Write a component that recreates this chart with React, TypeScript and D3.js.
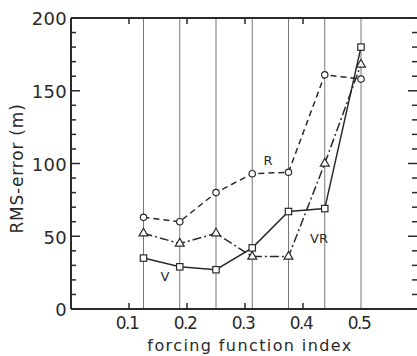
import React from 'react';
import * as d3 from 'd3';

// forcing function index values (one vertical line per value)
const indexValues = [0.125, 0.1875, 0.25, 0.3125, 0.375, 0.4375, 0.5];
// RMS-error (m) per curve
const seriesV = [35, 29, 27, 42, 67, 69, 180];
const seriesVR = [52, 45, 52, 36, 36, 100, 168];
const seriesR = [63, 60, 80, 93, 94, 161, 158];
const xTicks = [0.1, 0.2, 0.3, 0.4, 0.5];
const yTicks = [0, 50, 100, 150, 200];

const W = 417;
const H = 356;
const font = 'DejaVu Sans, sans-serif';
const ink = '#2a2a2a';

export default function App() {
  const x = d3.scaleLinear().domain([0, 0.6]).range([71, 419]);
  const y = d3.scaleLinear().domain([0, 200]).range([309, 18]);

  const line = d3
    .line<number>()
    .x((_, i) => x(indexValues[i]))
    .y((d) => y(d));

  const minor = d3.range(0, 201, 10);
  const left = x(0);
  const right = x(0.6);

  const square = (v: number, i: number) => (
    <rect key={i} x={x(indexValues[i]) - 3.2} y={y(v) - 3.2} width={6.4} height={6.4}
      fill="#fff" stroke={ink} strokeWidth={1.2} />
  );
  const circle = (v: number, i: number) => (
    <circle key={i} cx={x(indexValues[i])} cy={y(v)} r={3.2}
      fill="#fff" stroke={ink} strokeWidth={1.2} />
  );
  const tri = d3.symbol().type(d3.symbolTriangle).size(34);
  const triangle = (v: number, i: number) => (
    <path key={i} d={tri() as string} transform={`translate(${x(indexValues[i])},${y(v)})`}
      fill="#fff" stroke={ink} strokeWidth={1.2} />
  );

  return (
    <svg width={W} height={H} style={{ position: 'absolute', left: 0, top: 0, background: '#fff' }}>
      {/* vertical lines at each index value */}
      {indexValues.map((v, i) => (
        <line key={i} x1={x(v)} x2={x(v)} y1={y(200)} y2={y(0)} stroke="#777" strokeWidth={1} />
      ))}

      {/* frame */}
      <line x1={left} x2={left} y1={y(200)} y2={y(0)} stroke={ink} strokeWidth={2} />
      <line x1={left} x2={right} y1={y(0)} y2={y(0)} stroke={ink} strokeWidth={2} />
      <line x1={left} x2={right} y1={y(200)} y2={y(200)} stroke={ink} strokeWidth={2} />
      <line x1={right} x2={right} y1={y(200)} y2={y(0)} stroke={ink} strokeWidth={2} />

      {/* y ticks, left and right, inward */}
      {minor.map((t) => {
        const len = t % 50 === 0 ? 9 : 5;
        return (
          <g key={t}>
            <line x1={left} x2={left + len} y1={y(t)} y2={y(t)} stroke={ink} strokeWidth={1.5} />
            <line x1={right} x2={right - len - 2} y1={y(t)} y2={y(t)} stroke={ink} strokeWidth={1.5} />
          </g>
        );
      })}
      {yTicks.map((t) => (
        <text key={t} x={left - 4} y={y(t) + 1} dy="0.36em" textAnchor="end"
          fontFamily={font} fontSize={18} fill={ink} letterSpacing={0.3}>{t}</text>
      ))}

      {/* x ticks, bottom and top, inward */}
      {xTicks.map((t) => (
        <g key={t}>
          {t < 0.5 && <line x1={x(t)} x2={x(t)} y1={y(0)} y2={y(0) - 6} stroke={ink} strokeWidth={1.5} />}
          {t < 0.5 && <line x1={x(t)} x2={x(t)} y1={y(200)} y2={y(200) + 6} stroke={ink} strokeWidth={1.5} />}
          <text x={x(t) - 2} y={329} textAnchor="middle" fontFamily={font} fontSize={17}
            fill={ink} letterSpacing={-1.5}>{t.toFixed(1)}</text>
        </g>
      ))}

      {/* curves */}
      <path d={line(seriesR) as string} fill="none" stroke={ink} strokeWidth={1.5} strokeDasharray="6,4" />
      <path d={line(seriesVR) as string} fill="none" stroke={ink} strokeWidth={1.5} strokeDasharray="9,3,2,3" />
      <path d={line(seriesV) as string} fill="none" stroke={ink} strokeWidth={1.5} />
      {seriesR.map(circle)}
      {seriesVR.map(triangle)}
      {seriesV.map(square)}

      {/* curve labels */}
      <text x={268} y={165} textAnchor="middle" fontFamily={font} fontSize={13} fill={ink}>R</text>
      <text x={165} y={281} textAnchor="middle" fontFamily={font} fontSize={13} fill={ink}>V</text>
      <text x={319} y={243} textAnchor="middle" fontFamily={font} fontSize={13} fill={ink}>VR</text>

      {/* axis titles */}
      <text transform={`translate(23,${(y(0) + y(200)) / 2 + 5}) rotate(-90)`} textAnchor="middle"
        fontFamily={font} fontSize={17} fill={ink} letterSpacing={0.8}>RMS-error (m)</text>
      <text x={250} y={351} textAnchor="middle" fontFamily={font} fontSize={16} fill={ink}
        letterSpacing={1.4}>forcing function index</text>
    </svg>
  );
}
